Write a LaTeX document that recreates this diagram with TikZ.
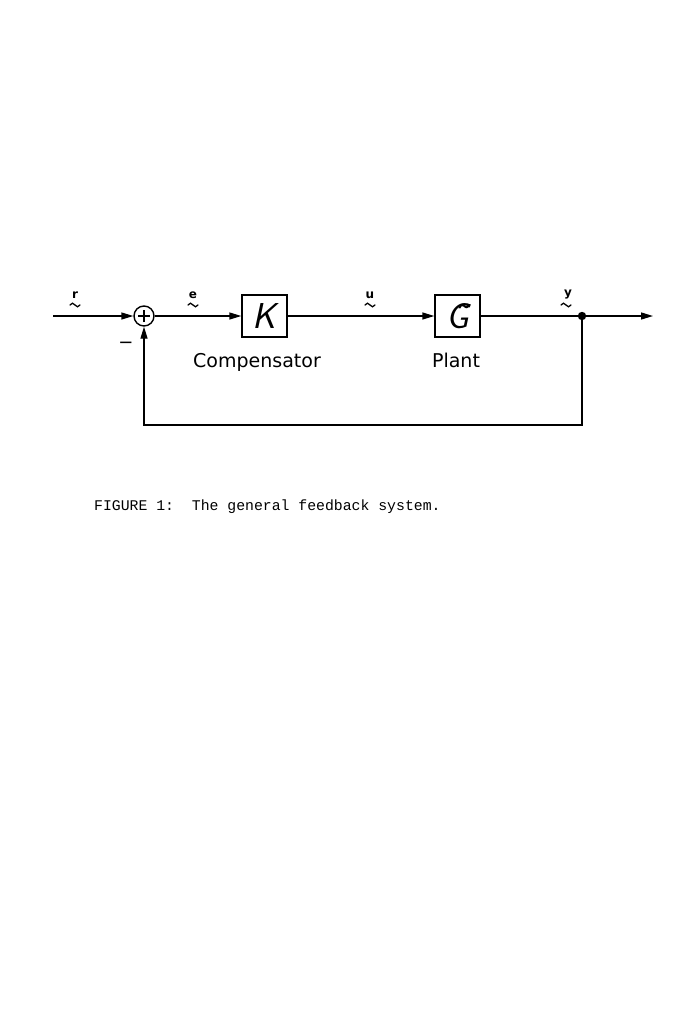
\documentclass[tikz,border=0pt]{standalone}
\usepackage{fontspec}
\setmainfont{DejaVu Sans}
\newfontfamily\capfont{Liberation Mono}
\usetikzlibrary{arrows.meta}
\begin{document}
\begin{tikzpicture}[x=1pt,y=-1pt,
  wire/.style={line width=1.4pt},
  flow/.style={wire,-{Triangle[length=12pt,width=7pt]}},
  blk/.style={draw,line width=1.4pt,minimum width=45pt,minimum height=42pt,inner sep=0pt},
  sig/.style={font=\fontsize{12}{12}\selectfont\bfseries,inner sep=0pt},
  squig/.style={line width=1.3pt,line cap=round},
  lbl/.style={font=\fontsize{19}{19}\selectfont,inner sep=0pt,anchor=base},
  sym/.style={font=\fontsize{36}{36}\selectfont\sffamily\slshape}]
\useasboundingbox[fill=white] (0,0) rectangle (693,1033);
% nodes
\coordinate (in) at (53,316);
\node[circle,draw,line width=1.4pt,minimum size=20pt,inner sep=0pt] (sum) at (144,316) {};
\node[blk] (K) at (264.5,316) {};
\node[sym] (Ks) at (K) {K};
\node[blk] (G) at (457.5,316) {};
\node[sym] (Gs) at (G) {\~{G}};
\fill (582,316) circle (4.2pt) coordinate (dot);
\coordinate (out) at (653,316);
\coordinate (br) at (582,425);
\coordinate (bl) at (144,425);
% plus sign
\draw[line width=1.2pt] ([xshift=-6pt]sum.center) -- ([xshift=6pt]sum.center)
  ([yshift=-6pt]sum.center) -- ([yshift=6pt]sum.center);
% connectors
\draw[flow] (in) -- (sum.west);
\draw[flow] (sum.east) -- (K.west);
\draw[flow] (K.east) -- (G.west);
\draw[wire] (G.east) -- (dot);
\draw[flow] (dot) -- (out);
\draw[flow] (dot) -- (br) -- (bl) -- (sum.south);
% labels with vector squiggles
\node[sig] (rl) at (75,295) {r};
\node[sig] (el) at (193,295) {e};
\node[sig] (ul) at (370,295) {u};
\node[sig] (yl) at (568,295) {y};
\foreach \n/\dx in {rl/0,el/0,ul/0,yl/-2}{
  \draw[squig] ([xshift=\dx pt-5pt,yshift=-10pt]\n.center) sin ++(2.5,-1.8) cos ++(2.5,1.8) sin ++(2.5,1.8) cos ++(2.5,-1.8);
}
\node[font=\fontsize{18}{18}\selectfont,inner sep=0pt] (minus) at (126,345) {−};
\node[lbl] (comp) at (257,367) {Compensator};
\node[lbl] (plant) at (456,367) {Plant};
\node[font=\capfont\fontsize{14.8}{14.8}\selectfont,anchor=base west,inner sep=0pt] (cap) at (94,510) {FIGURE 1:~~The general feedback system.};
\end{tikzpicture}
\end{document}
